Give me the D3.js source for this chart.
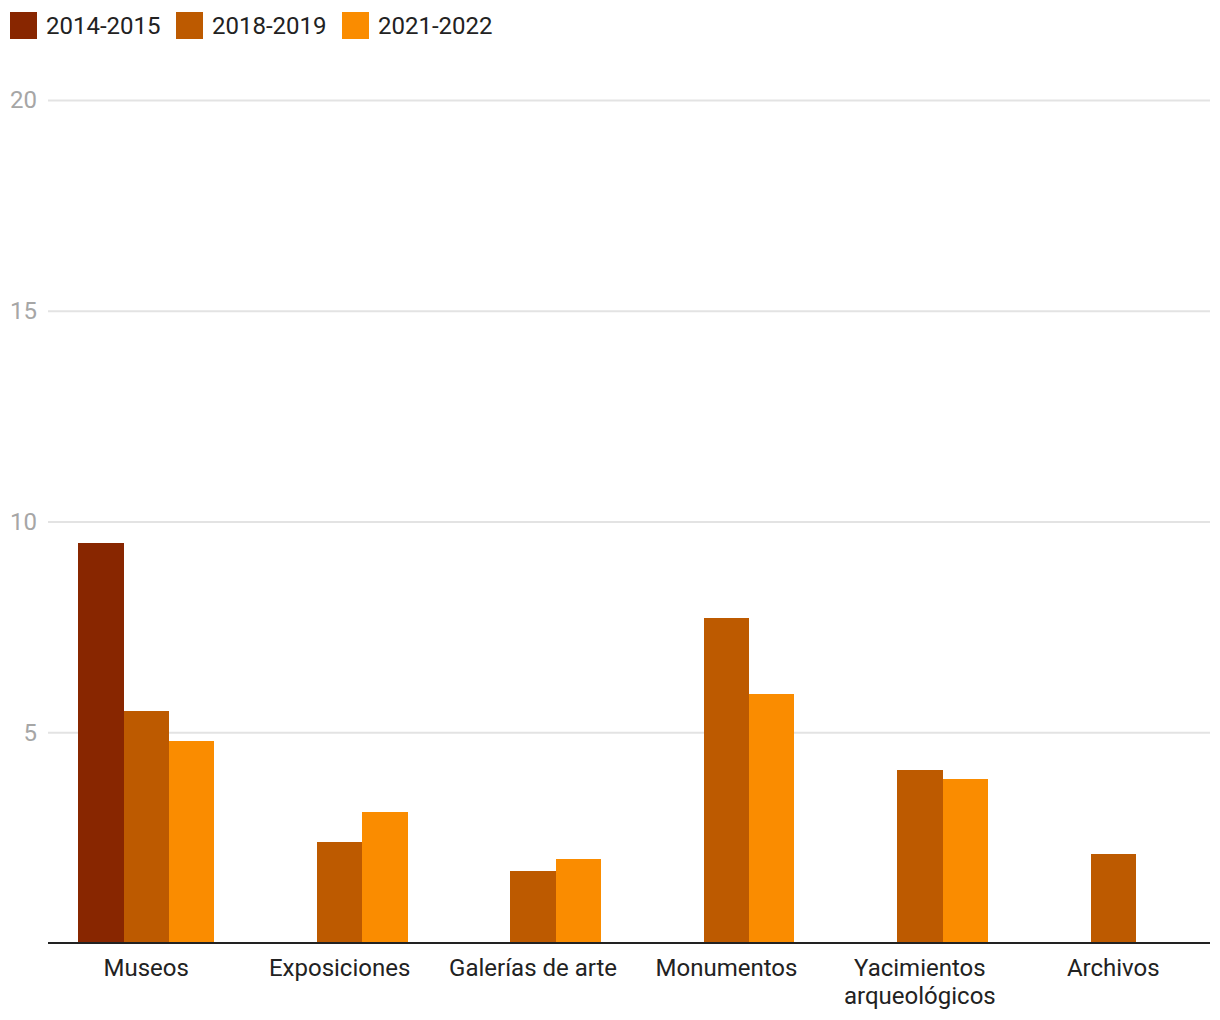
<!DOCTYPE html>
<html><head><meta charset="utf-8">
<script src="https://cdn.jsdelivr.net/npm/d3@7"></script>
<style>body{margin:0;background:#fff;}svg{display:block;font-family:Roboto,"Noto Sans",sans-serif;}</style>
</head><body>
<script>
const categories = ["Museos","Exposiciones","Galerías de arte","Monumentos","Yacimientos arqueológicos","Archivos"];
const seriesNames = ["2014-2015","2018-2019","2021-2022"];
const values2014 = [9.5, null, null, null, null, null];
const values2018 = [5.5, 2.4, 1.7, 7.7, 4.1, 2.1];
const values2021 = [4.8, 3.1, 2.0, 5.9, 3.9, null];
const colors = ["#882600","#bd5a00","#fa8c00"];
const yTicks = [5, 10, 15, 20];

(function () {
const W = 1220, H = 1020;
const svg = d3.select("body").append("svg").attr("width", W).attr("height", H);
const mLeft = 48, mRight = 1210, mTop = 100, mBottom = 943;
const FS = 24;

const y = d3.scaleLinear().domain([0, 20]).range([mBottom, mTop]);
const x0 = d3.scaleBand().domain(categories).range([mLeft + 1.5, mRight]).padding(0);
const x1 = d3.scaleBand().domain(seriesNames).range([0, x0.bandwidth()]).paddingInner(0).paddingOuter(0.637);

// gridlines
const grid = svg.append("g").attr("transform", `translate(${mLeft},0)`)
  .call(d3.axisLeft(y).tickValues(yTicks).tickSize(-(mRight - mLeft)).tickFormat(""));
grid.select(".domain").remove();
grid.selectAll("line").attr("stroke", "#e3e3e3").attr("stroke-width", 2);

// tick labels
svg.append("g").selectAll("text").data(yTicks).join("text")
  .attr("x", 37).attr("y", d => y(d)).attr("dy", "0.35em")
  .attr("text-anchor", "end").attr("font-size", FS).attr("fill", "#a6a6a6")
  .text(d => d);

// bars
const allSeries = [values2014, values2018, values2021];
const data = [];
categories.forEach((c, i) => {
  seriesNames.forEach((s, j) => {
    const v = allSeries[j][i];
    if (v != null) data.push({c, s, v, j});
  });
});
svg.append("g").attr("shape-rendering", "crispEdges").selectAll("rect").data(data).join("rect")
  .attr("x", d => Math.round(x0(d.c) + x1(d.s)))
  .attr("y", d => Math.round(y(d.v)))
  .attr("width", d => Math.round(x0(d.c) + x1(d.s) + x1.bandwidth()) - Math.round(x0(d.c) + x1(d.s)))
  .attr("height", d => Math.round(y(0)) - Math.round(y(d.v)))
  .attr("fill", d => colors[d.j]);

// baseline
svg.append("line").attr("x1", mLeft).attr("x2", mRight).attr("y1", mBottom).attr("y2", mBottom)
  .attr("stroke", "#222").attr("stroke-width", 2);

// category labels with wrapping
const labelG = svg.append("g");
categories.forEach(c => {
  const cx = x0(c) + x0.bandwidth() / 2;
  const words = c === "Yacimientos arqueológicos" ? ["Yacimientos", "arqueológicos"] : [c];
  const t = labelG.append("text").attr("x", cx).attr("y", 968)
    .attr("text-anchor", "middle").attr("font-size", FS).attr("fill", "#222");
  words.forEach((w, k) => {
    t.append("tspan").attr("x", cx).attr("dy", k === 0 ? "0.35em" : 28).text(w);
  });
});

// legend
const legendX = [10, 176, 342];
const lg = svg.append("g");
seriesNames.forEach((s, i) => {
  lg.append("rect").attr("x", legendX[i]).attr("y", 12).attr("width", 27).attr("height", 27).attr("fill", colors[i]);
  lg.append("text").attr("x", legendX[i] + 36).attr("y", 26).attr("dy", "0.35em")
    .attr("font-size", FS).attr("fill", "#222").text(s);
});
})();
</script>
</body></html>
